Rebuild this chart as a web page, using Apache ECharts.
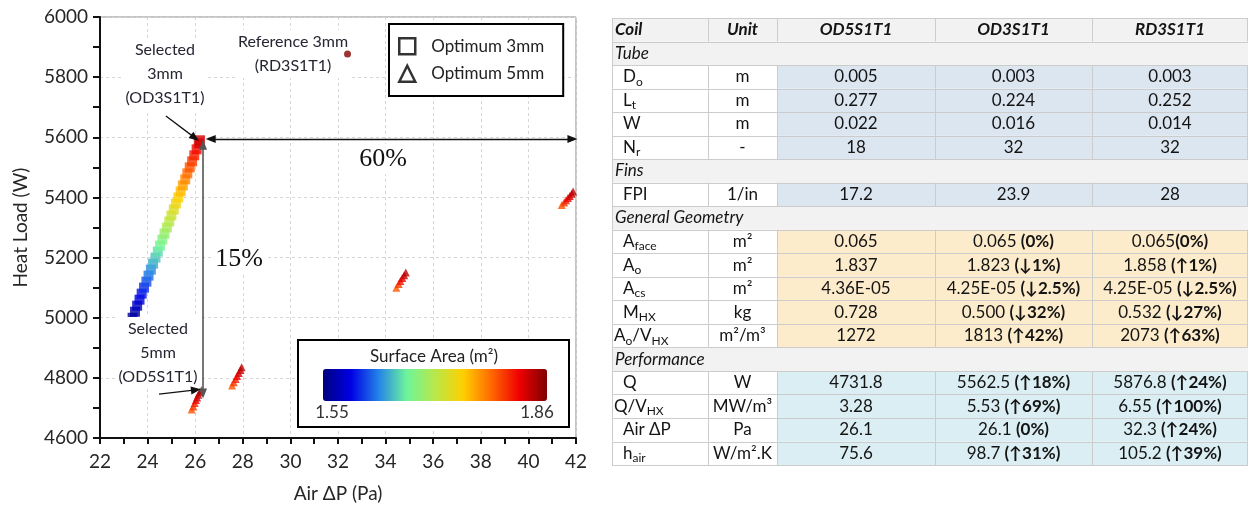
<!DOCTYPE html>
<html><head><meta charset="utf-8">
<script src="https://cdn.jsdelivr.net/npm/echarts@6/dist/echarts.min.js"></script>
<style>html,body{margin:0;padding:0;background:#fff}#c{width:1248px;height:506px}</style>
</head><body><div id="c"></div>
<script>
// ---------------- chart data ----------------
const opt3X = [23.37,23.47,23.56,23.66,23.75,23.85,23.95,24.04,24.14,24.23,24.33,24.43,24.52,24.62,24.71,24.81,24.91,25.00,25.10,25.19,25.29,25.39,25.48,25.58,25.67,25.77,25.87,25.96,26.06,26.15,26.20];
const opt3Q = [5000,5020,5040,5060,5080,5100,5120,5140,5160,5180,5200,5220,5240,5260,5280,5300,5320,5340,5360,5380,5400,5420,5440,5460,5480,5500,5520,5540,5560,5580,5590];
const opt3A = [1.555,1.565,1.574,1.583,1.593,1.602,1.611,1.621,1.630,1.640,1.649,1.658,1.668,1.677,1.687,1.696,1.705,1.715,1.724,1.734,1.743,1.752,1.762,1.771,1.781,1.790,1.799,1.809,1.818,1.828,1.832];

const opt5X = [25.85,25.92,25.98,26.03,26.08,26.13,26.20,26.25, 27.55,27.62,27.70,27.76,27.83,27.90,27.95, 34.45,34.55,34.62,34.70,34.78,34.85, 41.40,41.50,41.58,41.66,41.74,41.82,41.88];
const opt5Q = [4695,4705,4716,4726,4735,4744,4752,4760, 4775,4785,4796,4806,4816,4826,4835, 5100,5112,5122,5132,5141,5150, 5375,5383,5391,5398,5405,5412,5420];
const opt5A = [1.79,1.80,1.81,1.82,1.83,1.835,1.84,1.845, 1.79,1.80,1.81,1.82,1.83,1.835,1.84, 1.79,1.80,1.815,1.825,1.835,1.84, 1.79,1.80,1.81,1.82,1.83,1.835,1.84];

const refX = [32.4];
const refQ = [5877];
const refA = [1.858];

const areaMin = 1.55, areaMax = 1.86;
const areaMinLabel = '1.55', areaMaxLabel = '1.86';

// ---------------- table data ----------------
const headerCells = ['Coil','Unit','OD5S1T1','OD3S1T1','RD3S1T1'];
const sectionNames = ['Tube','Fins','General Geometry','Performance'];

const tubeLabels = ['D{s|o}','L{s|t}','W','N{s|r}'];
const tubeUnits  = ['m','m','m','-'];
const tubeOD5 = ['0.005','0.277','0.022','18'];
const tubeOD3 = ['0.003','0.224','0.016','32'];
const tubeRD3 = ['0.003','0.252','0.014','32'];

const finLabels = ['FPI'];
const finUnits  = ['1/in'];
const finOD5 = ['17.2'];
const finOD3 = ['23.9'];
const finRD3 = ['28'];

const geoLabels = ['A{s|face}','A{s|o}','A{s|cs}','M{s|HX}','A{s|o}/V{s|HX}'];
const geoUnits  = ['m²','m²','m²','kg','m²/m³'];
const geoOD5 = ['0.065','1.837','4.36E-05','0.728','1272'];
const geoOD3 = ['0.065 (0%)','1.823 (↓1%)','4.25E-05 (↓2.5%)','0.500 (↓32%)','1813 (↑42%)'];
const geoRD3 = ['0.065(0%)','1.858 (↑1%)','4.25E-05 (↓2.5%)','0.532 (↓27%)','2073 (↑63%)'];

const perfLabels = ['Q','Q/V{s|HX}','Air ΔP','h{s|air}'];
const perfUnits  = ['W','MW/m³','Pa','W/m².K'];
const perfOD5 = ['4731.8','3.28','26.1','75.6'];
const perfOD3 = ['5562.5 (↑18%)','5.53 (↑69%)','26.1 (0%)','98.7 (↑31%)'];
const perfRD3 = ['5876.8 (↑24%)','6.55 (↑100%)','32.3 (↑24%)','105.2 (↑39%)'];

// ---------------- build ----------------
const FONT = 'Lato, "Open Sans", sans-serif';
function zip3(a,b,c){ return a.map((v,i)=>[v,b[i],c[i]]); }

const sections = [
  {name:sectionNames[0], fill:'#DCE6F1', labels:tubeLabels, units:tubeUnits, cols:[tubeOD5,tubeOD3,tubeRD3]},
  {name:sectionNames[1], fill:'#DCE6F1', labels:finLabels, units:finUnits, cols:[finOD5,finOD3,finRD3]},
  {name:sectionNames[2], fill:'#FDECCB', labels:geoLabels, units:geoUnits, cols:[geoOD5,geoOD3,geoRD3]},
  {name:sectionNames[3], fill:'#DAEEF3', labels:perfLabels, units:perfUnits, cols:[perfOD5,perfOD3,perfRD3]}
];

const colEdges = [612, 708, 777, 935, 1092, 1248];
const tTop = 18, rowH = 23.53;
const rows = [{kind:'header'}];
sections.forEach(s=>{
  rows.push({kind:'section', name:s.name});
  s.labels.forEach((l,i)=>rows.push({kind:'data', fill:s.fill, label:l, unit:s.units[i], vals:s.cols.map(c=>c[i])}));
});

const TXT = '#141414';
const richBase = {
  s:{fontSize:12, fontFamily:FONT, lineHeight:9, verticalAlign:'bottom', fill:TXT},
  b:{fontSize:17, fontFamily:FONT, fontWeight:'bold', lineHeight:22, fill:TXT}
};
function valText(v){
  const i = v.indexOf('(');
  if (i < 0) return v;
  return v.slice(0,i) + '{b|' + v.slice(i) + '}';
}
const tbl = [];
rows.forEach((r,ri)=>{
  const y0 = tTop + ri*rowH, yc = y0 + rowH/2;
  if (r.kind==='header' || r.kind==='section') {
    tbl.push({type:'rect', z:1, shape:{x:colEdges[0], y:y0, width:colEdges[5]-colEdges[0], height:rowH}, style:{fill:'#F2F2F2'}});
  } else {
    tbl.push({type:'rect', z:1, shape:{x:colEdges[0], y:y0, width:colEdges[2]-colEdges[0], height:rowH}, style:{fill:'#FFFFFF'}});
    tbl.push({type:'rect', z:1, shape:{x:colEdges[2], y:y0, width:colEdges[5]-colEdges[2], height:rowH}, style:{fill:r.fill}});
  }
  const vx = (r.kind==='section') ? [colEdges[0]] : colEdges;
  vx.forEach(x=>{
    const xx = Math.min(x, 1247) + 0.5;
    tbl.push({type:'line', z:2, shape:{x1:xx, y1:y0, x2:xx, y2:y0+rowH}, style:{stroke:'#CCCCCC', lineWidth:1}});
  });
  if (r.kind==='header') {
    headerCells.forEach((h,ci)=>{
      const left = ci===0;
      tbl.push({type:'text', z:3, x: left ? colEdges[0]+3 : (colEdges[ci]+colEdges[ci+1])/2, y: yc,
        style:{text:h, fill:TXT, fontSize:17, fontFamily:FONT, fontWeight:'bold', fontStyle:'italic', align: left?'left':'center', verticalAlign:'middle'}});
    });
  } else if (r.kind==='section') {
    tbl.push({type:'text', z:3, x: colEdges[0]+3, y: yc,
      style:{text:r.name, fill:TXT, fontSize:17, fontFamily:FONT, fontStyle:'italic', align:'left', verticalAlign:'middle'}});
  } else {
    const slash = r.label.indexOf('/')>=0;
    tbl.push({type:'text', z:3, x: colEdges[0] + (slash?2:11), y: yc,
      style:{text:r.label, fill:TXT, fontSize:17, fontFamily:FONT, lineHeight:22, align:'left', verticalAlign:'middle', rich:richBase}});
    tbl.push({type:'text', z:3, x:(colEdges[1]+colEdges[2])/2, y: yc,
      style:{text:r.unit, fill:TXT, fontSize:17, fontFamily:FONT, lineHeight:22, align:'center', verticalAlign:'middle'}});
    r.vals.forEach((v,k)=>{
      tbl.push({type:'text', z:3, x:(colEdges[k+2]+colEdges[k+3])/2, y: yc,
        style:{text:valText(v), fill:TXT, fontSize:17, fontFamily:FONT, lineHeight:22, align:'center', verticalAlign:'middle', rich:richBase}});
    });
  }
});
for (let i=0;i<=rows.length;i++){
  const y = Math.round(tTop + i*rowH) + 0.5;
  tbl.push({type:'line', z:2, shape:{x1:colEdges[0], y1:y, x2:colEdges[5], y2:y}, style:{stroke:'#CCCCCC', lineWidth:1}});
}

// chart annotations (text boxes)
const annTextStyle = {fill:'#262633', fontSize:16, fontFamily:FONT, lineHeight:24, align:'center', verticalAlign:'middle', backgroundColor:'#fff', padding:[0,3]};
const annotations = [
  {type:'text', z:4, x:165, y:74, style:Object.assign({text:'Selected\n3mm\n(OD3S1T1)'}, annTextStyle)},
  {type:'text', z:4, x:293, y:54, style:Object.assign({text:'Reference 3mm\n(RD3S1T1)'}, annTextStyle)},
  {type:'text', z:4, x:158, y:353, style:Object.assign({text:'Selected\n5mm\n(OD5S1T1)'}, annTextStyle)},
  {type:'text', z:4, x:383, y:159, style:{text:'60%', fill:'#111', fontSize:26, fontFamily:'"Liberation Serif", serif', align:'center', verticalAlign:'middle', backgroundColor:'#fff', padding:[2,4]}},
  {type:'text', z:4, x:239, y:259, style:{text:'15%', fill:'#111', fontSize:26, fontFamily:'"Liberation Serif", serif', align:'center', verticalAlign:'middle', backgroundColor:'#fff', padding:[2,4]}},
  {type:'rect', z:3, shape:{x:298, y:340, width:271, height:87}, style:{fill:'#fff', stroke:'#000', lineWidth:2}},
  {type:'text', z:5, x:434, y:357, style:{text:'Surface Area (m²)', fill:'#222', fontSize:17, fontFamily:FONT, align:'center', verticalAlign:'middle'}},
  {type:'text', z:5, x:332, y:413, style:{text:areaMinLabel, fill:'#333', fontSize:17, fontFamily:FONT, align:'center', verticalAlign:'middle'}},
  {type:'text', z:5, x:537, y:413, style:{text:areaMaxLabel, fill:'#333', fontSize:17, fontFamily:FONT, align:'center', verticalAlign:'middle'}}
];

const AX = '#262626';
const chart = echarts.init(document.getElementById('c'), null, {renderer:'canvas'});
chart.setOption({
  backgroundColor:'#fff',
  animation:false,
  textStyle:{fontFamily:FONT},
  grid:{left:100, top:17, width:476, height:421, outerBoundsMode:'none', containLabel:false, show:true, borderColor:'#8a8a8a', borderWidth:1, backgroundColor:'transparent'},
  xAxis:{type:'value', min:22, max:42, interval:2,
    axisLine:{show:true, onZero:false, lineStyle:{color:'#111', width:2}},
    axisTick:{show:true, length:6, lineStyle:{color:'#111', width:2}},
    minorTick:{show:true, splitNumber:2, length:6, lineStyle:{color:'#111', width:2}},
    splitLine:{show:true, lineStyle:{color:'#D6D6D6', type:[3,3], width:1}},
    axisLabel:{margin:14, fontSize:19, color:AX, fontFamily:FONT},
    name:'Air ΔP (Pa)', nameLocation:'middle', nameGap:46, nameTextStyle:{fontSize:19, color:AX, fontFamily:FONT}},
  yAxis:{type:'value', min:4600, max:6000, interval:200,
    axisLine:{show:true, onZero:false, lineStyle:{color:'#111', width:2}},
    axisTick:{show:true, length:7, lineStyle:{color:'#111', width:2}},
    minorTick:{show:true, splitNumber:2, length:7, lineStyle:{color:'#111', width:2}},
    splitLine:{show:true, lineStyle:{color:'#D6D6D6', type:[3,3], width:1}},
    axisLabel:{margin:12, fontSize:19, color:AX, fontFamily:FONT, formatter:v=>String(v)},
    name:'Heat Load (W)', nameLocation:'middle', nameGap:70, nameRotate:90, nameTextStyle:{fontSize:19, color:AX, fontFamily:FONT}},
  visualMap:{type:'continuous', min:areaMin, max:areaMax, dimension:2, seriesIndex:[0,1,2],
    orient:'horizontal', left:323, top:369, itemWidth:32, itemHeight:224, padding:0,
    calculable:false, hoverLink:false, text:null, showLabel:false,
    inRange:{color:['#00007F','#0000E6','#2585E8','#6EF59A','#B8E84A','#FFD000','#FF6A00','#F00000','#7F0000']}},
  legend:{left:389, top:24, orient:'vertical', padding:[13,19,13,9], itemGap:9, itemWidth:16, itemHeight:16,
    backgroundColor:'#fff', borderColor:'#000', borderWidth:2, selectedMode:false,
    textStyle:{fontSize:17, color:'#222', fontFamily:FONT, padding:[0,0,0,11]},
    data:[
      {name:'Optimum 3mm', icon:'rect', itemStyle:{color:'#fff', borderColor:'#000', borderWidth:2.5}},
      {name:'Optimum 5mm', icon:'triangle', itemStyle:{color:'#fff', borderColor:'#000', borderWidth:2.5}}
    ]},
  graphic:{elements: tbl.concat(annotations)},
  series:[
    {name:'Optimum 3mm', type:'scatter', symbol:'rect', symbolSize:10, z:2, data: zip3(opt3X,opt3Q,opt3A)},
    {name:'Optimum 5mm', type:'scatter', symbol:'triangle', symbolSize:8, z:2, data: zip3(opt5X,opt5Q,opt5A)},
    {name:'Reference 3mm', type:'scatter', symbol:'circle', symbolSize:7, z:10, data: zip3(refX,refQ,refA),
      markLine:{silent:true, animation:false, symbol:['triangle','triangle'], symbolSize:[8,10],
        label:{show:false}, lineStyle:{color:'#111', width:1.3, type:'solid'},
        data:[
          [{coord:[26.65,5594]}, {coord:[41.85,5594]}],
          [{coord:[26.33,5575], lineStyle:{color:'#555', width:1.6}}, {coord:[26.33,4748]}],
          [{coord:[24.77,5671], symbol:'none'}, {coord:[25.99,5598], symbol:'triangle'}],
          [{coord:[24.48,4746], symbol:'none'}, {coord:[26.03,4760], symbol:'triangle'}]
        ]}}
  ]
});
</script></body></html>
